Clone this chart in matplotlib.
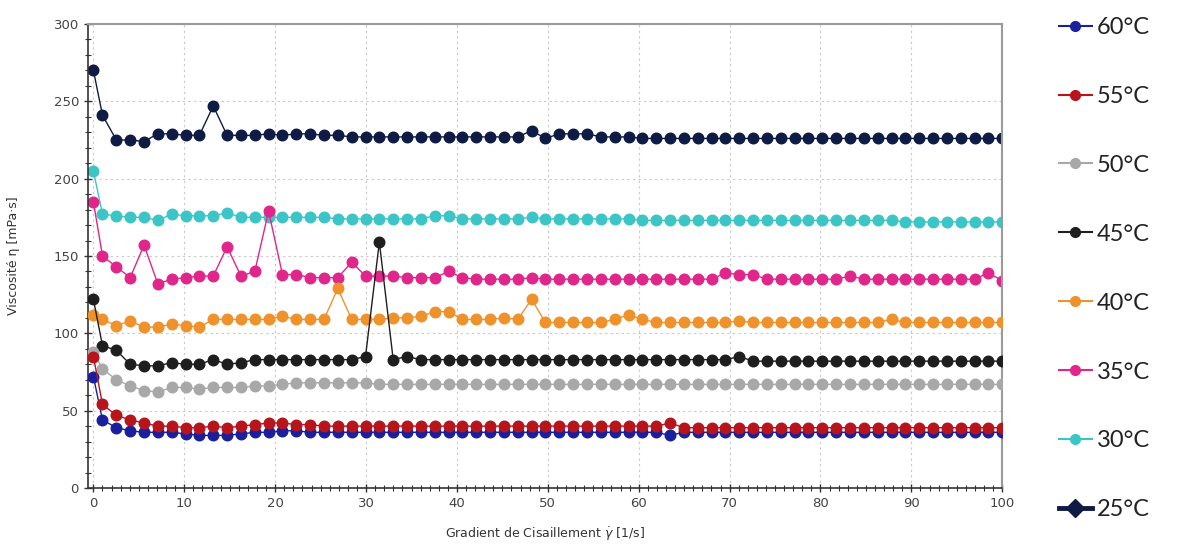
import numpy as np
import matplotlib
matplotlib.use("Agg")
import matplotlib.pyplot as plt
from matplotlib.lines import Line2D
from matplotlib.ticker import MultipleLocator

# shear-rate grid (1/s)
shear_rate = np.concatenate(([0.0], np.linspace(1.0, 100.0, 66)))

labels = ["60°C", "55°C", "50°C", "45°C", "40°C", "35°C", "30°C", "25°C"]

v25 = [270, 241, 225, 225, 224, 229, 229, 228, 228, 247,
       228, 228, 228, 229, 228, 229, 229, 228, 228, 227,
       227, 227, 227, 227, 227, 227, 227, 227, 227, 227,
       227, 227, 231, 226, 229, 229, 229, 227, 227, 227,
       226, 226, 226, 226, 226, 226, 226, 226, 226, 226,
       226, 226, 226, 226, 226, 226, 226, 226, 226, 226,
       226, 226, 226, 226, 226, 226, 226]
v30 = [205, 177, 176, 175, 175, 173, 177, 176, 176, 176,
       178, 175, 175, 175, 175, 175, 175, 175, 174, 174,
       174, 174, 174, 174, 174, 176, 176, 174, 174, 174,
       174, 174, 175, 174, 174, 174, 174, 174, 174, 174,
       173, 173, 173, 173, 173, 173, 173, 173, 173, 173,
       173, 173, 173, 173, 173, 173, 173, 173, 173, 172,
       172, 172, 172, 172, 172, 172, 172]
v35 = [185, 150, 143, 136, 157, 132, 135, 136, 137, 137,
       156, 137, 140, 179, 138, 138, 136, 136, 136, 146,
       137, 137, 137, 136, 136, 136, 140, 136, 135, 135,
       135, 135, 136, 135, 135, 135, 135, 135, 135, 135,
       135, 135, 135, 135, 135, 135, 139, 138, 138, 135,
       135, 135, 135, 135, 135, 137, 135, 135, 135, 135,
       135, 135, 135, 135, 135, 139, 134]
v40 = [112, 109, 105, 108, 104, 104, 106, 105, 104, 109,
       109, 109, 109, 109, 111, 109, 109, 109, 129, 109,
       109, 109, 110, 110, 111, 114, 114, 109, 109, 109,
       110, 109, 122, 107, 107, 107, 107, 107, 109, 112,
       109, 107, 107, 107, 107, 107, 107, 108, 107, 107,
       107, 107, 107, 107, 107, 107, 107, 107, 109, 107,
       107, 107, 107, 107, 107, 107, 107]
v45 = [122, 92, 89, 80, 79, 79, 81, 80, 80, 83,
       80, 81, 83, 83, 83, 83, 83, 83, 83, 83,
       85, 159, 83, 85, 83, 83, 83, 83, 83, 83,
       83, 83, 83, 83, 83, 83, 83, 83, 83, 83,
       83, 83, 83, 83, 83, 83, 83, 85, 82, 82,
       82, 82, 82, 82, 82, 82, 82, 82, 82, 82,
       82, 82, 82, 82, 82, 82, 82]
v50 = [88, 77, 70, 66, 63, 62, 65, 65, 64, 65,
       65, 65, 66, 66, 67, 68, 68, 68, 68, 68,
       68, 67, 67, 67, 67, 67, 67, 67, 67, 67,
       67, 67, 67, 67, 67, 67, 67, 67, 67, 67,
       67, 67, 67, 67, 67, 67, 67, 67, 67, 67,
       67, 67, 67, 67, 67, 67, 67, 67, 67, 67,
       67, 67, 67, 67, 67, 67, 67]
v55 = [85, 54, 47, 44, 42, 40, 40, 39, 39, 40,
       39, 40, 41, 42, 42, 41, 41, 40, 40, 40,
       40, 40, 40, 40, 40, 40, 40, 40, 40, 40,
       40, 40, 40, 40, 40, 40, 40, 40, 40, 40,
       40, 40, 42, 39, 39, 39, 39, 39, 39, 39,
       39, 39, 39, 39, 39, 39, 39, 39, 39, 39,
       39, 39, 39, 39, 39, 39, 39]
v60 = [72, 44, 39, 37, 36, 36, 36, 35, 34, 34,
       34, 35, 36, 36, 37, 37, 36, 36, 36, 36,
       36, 36, 36, 36, 36, 36, 36, 36, 36, 36,
       36, 36, 36, 36, 36, 36, 36, 36, 36, 36,
       36, 36, 34, 36, 36, 36, 36, 36, 36, 36,
       36, 36, 36, 36, 36, 36, 36, 36, 36, 36,
       36, 36, 36, 36, 36, 36, 36]

series = [v60, v55, v50, v45, v40, v35, v30, v25]
colors = ["#1a1f9e", "#b8141c", "#a8a8a8", "#1e1e1e", "#ef922c", "#e0268a", "#3cc5c7", "#0e1c45"]
zorders = [3.0, 3.1, 2.9, 2.8, 2.6, 2.5, 2.4, 2.3]

fig = plt.figure(figsize=(11.79, 5.45), dpi=100)
ax = fig.add_axes([0.0746, 0.1046, 0.7755, 0.8514])

for vals, col, lab, z in zip(series, colors, labels, zorders):
    ax.plot(shear_rate, vals, color=col, lw=1.0, marker="o", markersize=7.6,
            markeredgecolor=col, markerfacecolor=col, label=lab, zorder=z, clip_on=True)

ax.set_xlim(-0.6, 100)
ax.set_ylim(0, 300)
ax.xaxis.set_major_locator(MultipleLocator(10))
ax.xaxis.set_minor_locator(MultipleLocator(1))
ax.yaxis.set_major_locator(MultipleLocator(50))
ax.yaxis.set_minor_locator(MultipleLocator(10))
ax.grid(True, which="major", color="#c8c8c8", linestyle=(0, (2, 3)), lw=0.8)
ax.tick_params(which="major", direction="inout", length=6, width=1.0, colors="#333333",
               labelsize=9.5, labelcolor="#444444")
ax.tick_params(which="minor", direction="inout", length=4, width=0.8, colors="#333333")
for side in ["top", "right"]:
    ax.spines[side].set_color("#9a9a9a")
    ax.spines[side].set_linewidth(1.5)
for side in ["left", "bottom"]:
    ax.spines[side].set_color("#333333")
    ax.spines[side].set_linewidth(1.2)

ax.set_xlabel(r"Gradient de Cisaillement $\dot{\gamma}$ [1/s]", fontsize=9, color="#333333", labelpad=11)
ax.set_ylabel("Viscosité η [mPa·s]", fontsize=9, color="#333333", labelpad=24)

handles = []
for col, lab in zip(colors, labels):
    if lab == "25°C":
        handles.append(Line2D([], [], color=col, lw=3.5, marker="D", markersize=9,
                              markeredgecolor=col, markerfacecolor=col))
    else:
        handles.append(Line2D([], [], color=col, lw=1.5, marker="o", markersize=7,
                              markeredgecolor=col, markerfacecolor=col))
fig.legend(handles, labels, loc="upper left", bbox_to_anchor=(0.880, 1.008), frameon=False,
           prop={"family": "Lato", "size": 17}, labelspacing=2.03, handlelength=1.4,
           handletextpad=0.2, labelcolor="#222222")

fig.savefig("out.png", dpi=100)
